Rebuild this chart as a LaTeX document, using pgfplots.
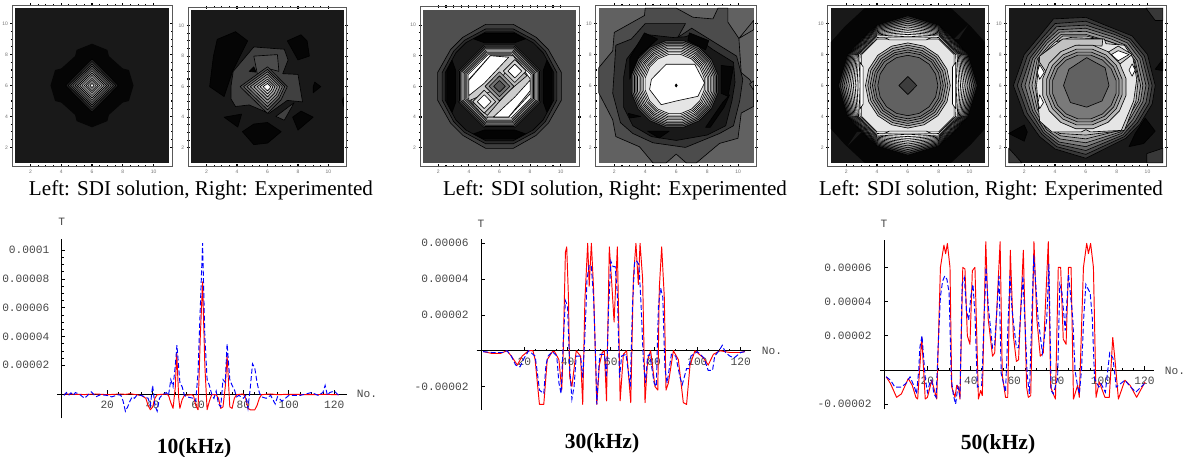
\documentclass[border=0pt]{standalone}
\usepackage{fontspec}
\setmainfont{Liberation Serif}
\setsansfont{Liberation Sans}
\newfontfamily\mono{Liberation Mono}
\usepackage{pgfplots}
\pgfplotsset{compat=1.18}
\newcommand\poly[3][]{\addplot[fill=white!#2!black,draw=black,line width=.62pt,line join=round,#1] coordinates {#3} --cycle;}
\newcommand\npoly{}
\renewcommand\npoly[3][]{\addplot[fill=white!#2!black,draw=none,#1] coordinates {#3} --cycle;}
\newcommand\dia[3][]{\poly[#1]{#3}{(-#2,0)(0,#2)(#2,0)(0,-#2)}}
\newcommand\oct[4][]{\poly[#1]{#4}{(-#2,#3)(#2,#3)(#3,#2)(#3,-#2)(#2,-#3)(-#2,-#3)(-#3,-#2)(-#3,#2)}}
\newcommand\six[6][]{\poly[#1]{#6}{(#2,#5)(#3,#4)(#4,#3)(#5,#2)(#5,-#2)(#4,-#3)(#3,-#4)(#2,-#5)(-#2,-#5)(-#3,-#4)(-#4,-#3)(-#5,-#2)(-#5,#2)(-#4,#3)(-#3,#4)(-#2,#5)}}
\newcommand\rc[6][]{\poly[#1]{#6}{(0,#2)(#3,#4)(#5,#5)(#4,#3)(#2,0)(#4,-#3)(#5,-#5)(#3,-#4)(0,-#2)(-#3,-#4)(-#5,-#5)(-#4,-#3)(-#2,0)(-#4,#3)(-#5,#5)(-#3,#4)}}
\pgfplotsset{
 ctr/.style={scale only axis,anchor=south west,no marks,clip=false,
  xmin=-5.2,xmax=5.2,ymin=-5.2,ymax=5.2,
  xtick={-4,-2,0,2,4},ytick={-4,-2,0,2,4},
  xticklabels={2,4,6,8,10},yticklabels={2,4,6,8,10},
  minor x tick num=1,minor y tick num=1,minor tick num=3,tick pos=both,xticklabel pos=lower,yticklabel pos=left,
  tick align=center,major tick length=3pt,minor tick length=2.4pt,
  tick style={black,line width=1.1pt},axis line style={line width=.8pt,black!65},
  tick label style={font=\fontsize{5}{5}\selectfont\sffamily,text=black!55},
  xticklabel style={yshift=1pt},yticklabel style={xshift=1pt}},
 lin/.style={scale only axis,anchor=south west,no marks,axis lines=middle,
  axis line style={-,black,line width=.7pt},tick align=inside,
  tick style={black,line width=.7pt},major tick length=3.5pt,minor tick length=2pt,
  tick label style={font=\fontsize{11.2}{12}\selectfont\mono,text=black!72},
  xtick={20,40,60,80,100,120},xticklabels={20,40,60,80,100,120},
  minor tick num=3,enlargelimits=false,
  xticklabel style={yshift=-4pt},yticklabel style={xshift=-9pt}},
 rl/.style={red,line width=.95pt,line join=round},
 bl/.style={blue,line width=.95pt,dash pattern=on 5pt off 2.5pt}
}
\begin{document}
\begin{tikzpicture}[x=1pt,y=1pt]
\useasboundingbox (0,0) rectangle (1190pt,457pt);
% ---------- panel 1
\begin{axis}[ctr,at={(12pt,291pt)},width=160pt,height=161pt]
\npoly{10}{(-5,-5)(5,-5)(5,5)(-5,5)}
\npoly{2}{(0,2.7)(1,2.3)(1.1,1.9)(2,1.1)(2.4,1)(2.7,0)(2.4,-1)(2,-1.1)(1.1,-1.9)(1,-2.3)(0,-2.7)(-1,-2.3)(-1.1,-1.9)(-2,-1.1)(-2.4,-1)(-2.7,0)(-2.4,1)(-2,1.1)(-1.1,1.9)(-1,2.3)}
\dia{1.7}{15}\dia{1.55}{25}\dia{1.4}{32}\dia{1.25}{40}\dia{1.1}{48}\dia{.95}{56}\dia{.8}{64}\dia{.65}{72}\dia{.5}{80}\dia{.38}{88}\dia{.26}{95}\dia{.14}{100}
\end{axis}
% ---------- panel 2
\begin{axis}[ctr,at={(188.3pt,291pt)},width=158.4pt,height=158.7pt]
\npoly{10}{(-5,-5)(5,-5)(5,5)(-5,5)}
\poly{2}{(-3.3,3.1)(-2.1,3.6)(-1.3,3)(-2.3,1)(-2.85,-.65)(-3.8,0)(-3.55,2)}
\poly{2}{(1.3,3)(2.2,3.4)(2.6,3)(2.75,2)(2,1.75)}
\poly{2}{(3,0)(3.1,.3)(3.5,0)(3,-.4)}
\poly{2}{(-2.85,-2)(-1.7,-1.8)(-1.95,-2.65)}
\poly{2}{(-1.65,-2.95)(-.9,-2.45)(0,-2.35)(.9,-2.95)(0,-3.7)(-.9,-3.8)}
\poly{2}{(1.65,-2)(2.2,-1.6)(3,-2)(2,-2.85)}
\poly{2}{(4.9,-.9)(5,-.7)(5,-1.3)}
\poly{25}{(-2.25,1)(-.9,2.6)(1.1,2.45)(1.35,1.75)(1,.85)(2,.8)(2.3,-1)(1.3,-.9)(.1,-1.75)(-1.2,-1.2)(-2.1,-1.3)(-2.4,-.8)(-2.4,0)}
\poly{30}{(-.9,2)(.65,2.1)(.75,1)(0,1.2)(-.65,.75)}
\poly{2}{(-1.2,1)(-.9,1.3)(-.75,.95)}
\poly{25}{(.55,-1.95)(1.75,-1.05)(1.1,-2.2)}
\poly{30}{(-1.8,0)(0,1.3)(1.3,0)(.9,-.85)(0,-1.75)}
\poly{40}{(-1.57,0)(0,1.13)(1.13,0)(.78,-.74)(0,-1.52)}
\poly{50}{(-1.35,0)(0,.98)(.98,0)(.68,-.64)(0,-1.31)}
\poly{58}{(-1.13,0)(0,.82)(.82,0)(.57,-.54)(0,-1.1)}
\poly{66}{(-.9,0)(0,.65)(.65,0)(.45,-.43)(0,-.88)}
\poly{74}{(-.68,0)(0,.49)(.49,0)(.34,-.32)(0,-.67)}
\poly{82}{(-.49,0)(0,.35)(.35,0)(.24,-.23)(0,-.47)}
\poly{92}{(-.29,0)(0,.21)(.21,0)(.14,-.14)(0,-.28)}
\npoly{100}{(-.14,0)(0,.1)(.1,0)(.07,-.07)(0,-.14)}
\end{axis}
% ---------- panel 3
\begin{axis}[ctr,at={(420pt,291pt)},width=159pt,height=159.3pt]
\npoly{31}{(-5,-5)(5,-5)(5,5)(-5,5)}
\six{.9}{2.4}{3.2}{4.05}{24}
\six{.9}{2.3}{3}{3.75}{16}
\six{.9}{2.2}{2.85}{3.55}{10}
\poly{1}{(-1.7,3.1)(-1,3.45)(1,3.45)(1.7,3.1)(1,2.85)(-1,2.85)}
\poly{1}{(-1.7,-3.1)(-1,-3.45)(1,-3.45)(1.7,-3.1)(1,-2.85)(-1,-2.85)}
\poly{1}{(-3.1,-1.7)(-3.45,-1)(-3.45,1)(-3.1,1.7)(-2.85,1)(-2.85,-1)}
\poly{1}{(3.1,-1.7)(3.45,-1)(3.45,1)(3.1,1.7)(2.85,1)(2.85,-1)}
\oct{1}{2.7}{30}\oct{.97}{2.62}{45}\oct{.94}{2.54}{58}\oct{.91}{2.46}{70}\oct{.88}{2.38}{80}\oct{.85}{2.3}{88}\oct{.82}{2.22}{94}\oct{.79}{2.14}{98}\oct{.76}{2.06}{100}
\poly{80}{(-2,.45)(-.6,2)(.9,2)(2,.5)(2,-.5)(.6,-2)(-.95,-2)(-2,-.9)}
\poly{100}{(-2,.4)(-2,-.6)(-1,.2)(.6,1.9)(-.6,2)}
\poly{100}{(2,.4)(2,-.3)(.6,-2)(-.4,-2)(1,-.7)}
\poly{72}{(-1.9,-.9)(-.5,-.3)(.9,1.6)(1.8,.7)(.5,-.4)(-.8,-1.9)}
\poly{82}{(1,1.75)(1.75,1)(1,.25)(.25,1)}
\poly{100}{(1,1.45)(1.45,1)(1,.55)(.55,1)}
\poly{82}{(-1,-1.75)(-1.75,-1)(-1,-.25)(-.25,-1)}
\poly{100}{(-1,-1.45)(-1.45,-1)(-1,-.55)(-.55,-1)}
\dia{.95}{60}\dia{.68}{45}\dia{.38}{33}
\end{axis}
% ---------- panel 4
\begin{axis}[ctr,at={(595.7pt,291pt)},width=161pt,height=161pt]
\npoly{38}{(-5,-5)(5,-5)(5,5)(-5,5)}
\poly{30}{(-5,1.15)(-4.1,2.24)(-4,3.43)(-2.05,4.52)(-2,5)(0,5)(1.08,4.41)(2.37,4.3)(2.7,5)(3.34,5)(3.34,4.09)(4.05,3.04)(4.2,.83)(4.74,.39)(5,-.04)(5,-1.35)(4.2,-1.78)(3.99,-3.41)(2.8,-3.74)(1.3,-5)(.65,-5)(0,-4.43)(-.65,-5)(-1.5,-5)(-2.37,-3.96)(-3.9,-3.3)(-4.1,-2.22)(-5,-.48)}
\poly{38}{(4.05,3.04)(5,4.2)(5,3.6)}
\poly{38}{(4.74,.1)(5,.3)(5,-.3)}
\poly{20}{(-4,1)(-3.9,2.6)(-2.9,3)(-2,4)(.6,4)(.1,3.1)(1,3.7)(3.9,1.9)(4.3,.4)(4.1,-1)(3.7,-2.6)(2.8,-3.1)(.6,-4)(-1.5,-3.7)(-2.8,-3.1)(-3.6,-2.4)(-4.1,-.5)}
\poly{10}{(-3.2,1.7)(-2,3.3)(-.2,3.1)(.6,3.15)(1,3.3)(2.4,2.3)(3.7,1.5)(3.8,.2)(3.6,-1)(3.2,-2.6)(2,-3.2)(0,-3.55)(-1.6,-3.3)(-2.8,-2.6)(-3.4,-1.4)(-3.4,.5)}
\poly{2}{(-3,1.8)(-2.05,3.4)(-1.2,3)(-2.4,1.9)(-3,.4)}
\poly{2}{(-3.1,-1.8)(-2.3,-2)(-3,-2.1)}
\poly{2}{(-1.85,-2.95)(-.45,-2.95)(-1.1,-3.4)}
\poly{2}{(1.9,-2.7)(3,-1.1)(3.45,-.6)(3.1,-1.4)(2.2,-2.7)}
\poly{2}{(2.9,1.3)(3.7,1.2)(3.35,-.7)(2.9,-.5)}
\poly{2}{(.85,3.4)(2.1,2.9)(1.9,2.3)(.75,2.9)}
\six[xshift=-1.5pt,yshift=1.5pt]{.57}{1.6}{2.37}{2.8}{35}
\six[xshift=-1.5pt,yshift=1.5pt]{.55}{1.54}{2.28}{2.7}{50}
\six[xshift=-1.5pt,yshift=1.5pt]{.53}{1.48}{2.2}{2.6}{62}
\six[xshift=-1.5pt,yshift=1.5pt]{.51}{1.43}{2.12}{2.5}{72}
\six[xshift=-1.5pt,yshift=1.5pt]{.49}{1.37}{2.03}{2.4}{80}
\six[xshift=-1.5pt,yshift=1.5pt]{.47}{1.32}{1.95}{2.3}{87}
\six[xshift=-1.5pt,yshift=1.5pt]{.45}{1.26}{1.87}{2.2}{92}
\six[xshift=-1.5pt,yshift=1.5pt]{.43}{1.2}{1.78}{2.11}{96}
\six[xshift=-1.5pt,yshift=1.5pt]{.41}{1.15}{1.7}{2.01}{100}
\six[xshift=-1.5pt,yshift=1.5pt]{.39}{1.09}{1.62}{1.91}{90}
\poly{100}{(-1.6,.4)(-.65,1.37)(1.2,1.37)(1.83,.17)(1.4,-.7)(0,-1)(-.97,-1.24)(-1.72,-.26)}
\poly{0}{(-.07,0)(0,.1)(.07,0)(0,-.1)}
\end{axis}
% ---------- panel 5
\begin{axis}[ctr,at={(827.7pt,291pt)},width=160.3pt,height=161pt]
\npoly{10}{(-5,-5)(5,-5)(5,5)(-5,5)}
\npoly{2}{(-5,2.8)(-4.1,3.8)(-2.8,5)(2.8,5)(4.1,3.8)(5,2.8)(5,-2.8)(4.1,-3.8)(2.8,-5)(-2.8,-5)(-4.1,-3.8)(-5,-2.8)}
\npoly{10}{(3,3)(3.9,3.9)(3.3,3)}
\npoly{10}{(-3,-3)(-3.9,-3.9)(-3.3,-3)}
\rc{4.5}{2}{3.9}{3}{18}\rc{4.38}{2}{3.83}{2.96}{32}\rc{4.26}{2}{3.76}{2.92}{44}\rc{4.14}{2}{3.69}{2.88}{55}\rc{4.02}{2}{3.62}{2.84}{65}\rc{3.9}{2}{3.55}{2.8}{74}\rc{3.78}{2}{3.48}{2.76}{82}\rc{3.66}{2}{3.41}{2.72}{88}\rc{3.54}{2}{3.34}{2.68}{93}\rc{3.42}{2}{3.27}{2.64}{97}\rc{3.3}{2}{3.2}{2.6}{100}\rc{3.18}{2}{3.1}{2.55}{100}
\oct{2}{3}{90}
\poly{100}{(-1.5,3.08)(-1.2,2.95)(1.2,2.95)(1.5,3.08)}
\poly{100}{(-1.5,-3.08)(-1.2,-2.95)(1.2,-2.95)(1.5,-3.08)}
\poly{100}{(-3.1,1.5)(-2.9,1.2)(-2.9,-1.2)(-3.1,-1.5)}
\poly{100}{(3.1,1.5)(2.9,1.2)(2.9,-1.2)(3.1,-1.5)}
\rc{2.75}{1.05}{2.54}{1.95}{72}\rc{2.6}{.99}{2.4}{1.85}{63}\rc{2.45}{.93}{2.26}{1.74}{56}\rc{2.3}{.87}{2.12}{1.63}{50}\rc{2.15}{.82}{1.99}{1.53}{45}\rc{1.95}{.74}{1.8}{1.38}{38}
\dia{.58}{24}
\end{axis}
% ---------- panel 6
\begin{axis}[ctr,at={(1005.7pt,291pt)},width=160.3pt,height=161pt]
\npoly{10}{(-5,-5)(5,-5)(5,5)(-5,5)}
\poly{22}{(3.9,5)(5,5)(5,4.2)(4.5,4.2)}
\poly{22}{(3.95,-4.4)(5,-4.05)(5,-5)(3.95,-5)}
\poly{22}{(-5,-4.05)(-4.15,-5)(-5,-5)}
\poly{2}{(-5,-3.1)(-4,-2.55)(-3.8,-3)(-4,-3.6)}
\poly{2}{(2.8,-3.95)(3.2,-3.1)(3.85,-2.1)(4.5,-2.95)(3.75,-3.75)}
\poly{2}{(4.5,1.05)(5,1.7)(5,.95)}
\poly{22}{(-4.7,0)(-4,2)(-3,3.2)(-2.1,4.3)(0,4.4)(2,3.6)(3,3.2)(4,2)(4.5,0)(4.3,-1.2)(3.5,-2.5)(2.6,-3.4)(0,-4.7)(-2,-4.1)(-3,-3.3)(-4,-1.9)}
\poly{30}{(-4.45,0)(-3.8,1.9)(-2.85,3.05)(-2,4)(0,4.15)(1.9,3.45)(2.9,3)(3.8,1.9)(4.3,0)(4.1,-1.15)(3.35,-2.4)(2.5,-3.3)(0,-4.45)(-1.9,-3.95)(-2.85,-3.15)(-3.8,-1.8)}
\poly{40}{(-4.2,0)(-3.6,1.8)(-2.7,2.95)(-1.9,3.8)(0,3.9)(1.85,3.3)(2.8,2.9)(3.65,1.8)(4.1,0)(3.9,-1.1)(3.2,-2.3)(2.4,-3.2)(0,-4.2)(-1.8,-3.8)(-2.75,-3.05)(-3.6,-1.7)}
\poly{50}{(-3.95,0)(-3.45,1.75)(-2.6,2.85)(-1.8,3.6)(0,3.7)(1.75,3.15)(2.7,2.75)(3.5,1.7)(3.9,0)(3.7,-1.05)(3.05,-2.2)(2.3,-3.1)(0,-3.95)(-1.75,-3.65)(-2.65,-2.95)(-3.45,-1.65)}
\poly{60}{(-3.7,0)(-3.3,1.7)(-2.5,2.75)(-1.7,3.45)(0,3.5)(1.65,3)(2.6,2.6)(3.35,1.6)(3.7,0)(3.55,-1)(2.9,-2.1)(2.25,-3)(0,-3.7)(-1.7,-3.45)(-2.55,-2.85)(-3.3,-1.6)}
\poly{68}{(-3.5,0)(-3.15,1.7)(-2.35,2.65)(-1.6,3.3)(0,3.3)(1.5,2.85)(2.5,2.5)(3.2,1.6)(3.55,0)(3.4,-1)(2.75,-2.05)(2.2,-2.9)(0,-3.45)(-1.65,-3.25)(-2.45,-2.75)(-3.15,-1.55)}
\poly{76}{(-3.3,0)(-3.05,1.75)(-2.2,2.6)(-1.5,3.2)(0,3.2)(1.3,2.9)(2.4,2.55)(3.1,1.7)(3.4,.4)(3.25,-1)(2.5,-2.9)(0,-3.2)(-1.7,-3.1)(-2.35,-2.65)(-3.05,-1.6)}
\poly{90}{(-3,1.8)(-2,2.8)(-1,3.1)(1.2,3)(1.3,2.7)(2.5,2.6)(3.05,1.8)(3.3,.4)(3.1,-1)(2.3,-2.9)(.3,-3)(0,-2.85)(-.3,-3)(-2.2,-3)(-3,-2.3)(-3.2,0)}
\poly{76}{(-3,1.9)(-1.5,3)(1.1,3)(1.05,2.55)(-.5,2.6)(-1.8,1.9)(-2.6,.9)(-3,1.5)}
\poly{80}{(2.1,2.55)(3,2)(2.1,1.3)(1.2,2)}
\poly{100}{(2.1,2.25)(2.8,2)(2.1,1.6)(1.65,2)}
\poly{100}{(-3,1.35)(-2.7,.85)(-3,.4)(-3.15,.85)}
\poly{100}{(-3,-.6)(-2.75,-1.1)(-3,-1.5)(-3.1,-1.1)}
\poly{100}{(3,1.4)(3.2,1)(3,.6)(2.8,1)}
\six[xshift=-1.5pt,yshift=-1.5pt]{.55}{1.54}{2.28}{2.7}{72}
\six[xshift=-1.5pt,yshift=-1.5pt]{.5}{1.4}{2.07}{2.45}{62}
\six[xshift=-1.5pt,yshift=-1.5pt]{.46}{1.29}{1.9}{2.25}{55}
\six[xshift=-1.5pt,yshift=-1.5pt]{.42}{1.18}{1.74}{2.06}{48}
\poly{38}{(-1.1,1.05)(.05,1.8)(1.25,1.15)(1.5,0)(1.05,-1)(.05,-1.4)(-1,-1.1)(-1.45,0)}
\end{axis}
% ---------- 10 kHz
\begin{axis}[lin,at={(57.3pt,38.6pt)},width=289.4pt,height=179.6pt,xmin=-2,xmax=125.5,ymin=-17,ymax=108,
 ytick={20,40,60,80,100},yticklabels={0.00002,0.00004,0.00006,0.00008,0.0001}]
\addplot[rl] coordinates {(1,0)(10,-.4)(15,0)(20,-.5)(26,0)(28,-.3)(30,.2)(33,-.6)(35,-1)(37,-3)(38,-8)(39,-11)(40,-9)(41,-3)(42,-.5)(46,0)(47,-1)(48,-6)(49,-10)(50,5)(50.6,29)(51.5,-3)(52,-10)(53,-4)(54,-1)(57,-.5)(58,-1)(59,-8)(60,-11)(61,40)(62,78)(63,20)(64,-11)(65,-5)(66,-.5)(68,-.5)(69,-3)(70,-10)(71,-9)(72,5)(72.8,27)(74,-9)(75,-10)(76,-3)(77,-.5)(80,0)(81,-3)(82,-10)(83,-11)(84,-11)(85,-11)(86,-8)(87,-3)(88,-.5)(92,0)(95,-.5)(100,-.2)(110,-.5)(116,-.3)(122,-.5)};
\addplot[bl] coordinates {(1,-1)(2,1)(3,-1)(4,.8)(5,-1)(6,1)(8,-.5)(10,-3)(12,0)(13,1.5)(15,-2)(17,-.5)(20,-1)(22,-2)(25,-.5)(26,-1)(27,-5)(28,-12)(29,-9)(30,-5)(31,-2)(32,-3)(33,-1)(35,-1)(38,-3)(39,-8)(40,6)(41,-8)(42,-12)(43,-3)(44,-1)(46,1)(47,-1)(48,10)(49,5)(50,20)(50.7,34)(52,8)(53,5)(54,-1)(55,-2)(58,-3)(59,-5)(60,15)(61,60)(62,105)(63,40)(64,10)(65,6)(66,0)(67,-3)(68,2)(69,-7)(70,-9)(71,10)(72,8)(72.8,35)(74,10)(75,6)(76,3)(77,-2)(78,-1)(80,-3)(81,-1)(82,-10)(83,4)(84,21)(85,18)(86,8)(87,1)(88,-2)(90,-3)(92,-1)(94,-7)(95,-2)(97,-5)(100,-1)(105,-1)(110,1)(113,-1)(115,1)(116,6)(117,-1)(118,1)(120,2)(122,-1)};
\end{axis}
% ---------- 30 kHz
\begin{axis}[lin,at={(476.7pt,47.2pt)},width=273.9pt,height=170.8pt,xmin=-2,xmax=124.6,ymin=-33,ymax=62.4,
 ytick={-20,20,40,60},yticklabels={-0.00002,0.00002,0.00004,0.00006}]
\addplot[rl] coordinates {(1,-.5)(5,-1.5)(9,-1.5)(12,0)(14,-3)(16.8,-8)(19,-3)(22,0)(24,0)(25,-5)(27,-30)(29,-30)(30.6,-5)(33,-.5)(34,-.5)(36,-5)(37.3,-22)(38,0)(39,55)(39.6,58)(40.4,30)(41,-15)(42,-20)(44,0)(46,-3)(47,-30)(48,28)(49.3,60)(50,36)(51,60)(52,35)(53.5,-30)(54.7,-8)(56,-1)(57,0)(58,-28)(59.3,58)(60.4,38)(61.5,16)(63,58)(64.3,-28)(65.8,-2)(67.3,0)(69.2,-29)(70.4,40)(71.6,60)(72.7,37)(73.5,60)(74.7,40)(75.8,-29)(77,-5)(78.4,0)(80.4,-20)(81.7,-22)(82.4,35)(83.5,58)(84.7,30)(85.5,-22)(86.6,-18)(88.9,0)(91.2,-5)(93.5,-29)(95,-30)(96.6,-8)(98.9,0)(102.8,-4)(105,-8)(107.4,-2)(110.5,0)(115,-1)(119.7,-1)(122,-.5)};
\addplot[bl] coordinates {(1,-.5)(5,-1)(10,-1)(12,0)(14,-3)(16,-8)(18,-9)(20,-4)(22,0)(25,-3)(26,-12)(27,-22)(28,-23)(29,-24)(30,-8)(31,-3)(33,-.5)(35,-3)(36,-18)(37,-24)(38,5)(39,28)(40,25)(41,-10)(42,-27)(43,-20)(44,-3)(46,-3)(47,-15)(48,8)(49,40)(50,48)(51,47)(52,30)(53,-5)(53.5,-30)(54.5,-8)(55,-2)(57,-2)(58,-15)(59,25)(60,50)(61,47)(62,47)(63,32)(64,-15)(65,-3)(67,-2)(69,-20)(70,25)(71,50)(72,50)(73,48)(74,25)(75,-5)(76,-18)(77,-3)(78,-2)(80,-18)(81,-20)(82,25)(83,35)(84,30)(85,-10)(86,-18)(88,-2)(90,-3)(92,-15)(93,-19)(95,-10)(96,-10)(97,-3)(100,-.5)(103,-4)(105,-11)(107,-11)(108,-3)(110,0)(111.5,3)(113,-1)(115,-3)(117,-4)(120,-1)(122,-.5)};
\end{axis}
% ---------- 50 kHz
\begin{axis}[lin,at={(880.1pt,47.7pt)},width=274.3pt,height=169.3pt,xmin=-1.8,xmax=124.6,ymin=-23,ymax=76,
 ytick={-20,20,40,60},yticklabels={-0.00002,0.00002,0.00004,0.00006}]
\addplot[rl] coordinates {(1,-4)(3,-8)(5.8,-16)(8,-14)(11.2,-5)(13,-9)(14.7,-16)(15.5,-17)(17.4,19)(19,-17)(20,-16)(22,-6)(24.3,-17)(25,15)(26,60)(27.6,73)(28.4,68)(29.2,74)(30.4,60)(31.2,-10)(32.7,-16)(33.5,-9)(34.3,-10)(35,-17)(36.3,60)(37.3,59)(38.4,20)(39.6,15)(40.7,58)(41.9,60)(43.5,-17)(44.5,-12)(45.3,-15)(46.9,75)(48,30)(50,8)(51,10)(53.5,75)(54.5,-3)(56,-16)(57,-16)(58.2,70)(59.6,20)(61,5)(62,6)(64.2,70)(65.7,-10)(66.5,-16)(67.6,-15)(69.1,75)(70.4,30)(72,8)(73.4,10)(75.7,75)(76.8,-10)(78,-14)(79,-17)(80.3,60)(81.4,60)(82.6,18)(83.9,15)(85,60)(86.2,60)(87.3,-17)(89.2,-9)(90,-16)(91.9,60)(93.4,74)(94.2,68)(95.2,74)(96.5,60)(97.7,-16)(99.2,-7)(101.8,-16)(103.8,-16)(105.4,19)(106.5,5)(108,-17)(111,-6)(113.4,-9)(116.4,-16)(120.3,-7)};
\addplot[bl] coordinates {(1,-4)(3,-6)(5,-10)(8,-10)(10,-8)(12,-4)(14,-10)(15,-14)(16,0)(16.5,13)(17.5,20)(19,-5)(20,-13)(21,-8)(22,-6)(23,-14)(24,-16)(25,15)(26,43)(27,52)(28,55)(29,53)(30,45)(31,-5)(32,-15)(33,-20)(34,-10)(35,-15)(36,50)(37,54)(38,35)(39,29)(40,43)(41,50)(42,30)(43,-10)(45,-9)(47,60)(48,38)(50,13)(51,15)(53,55)(54,-2)(56,-13)(58,55)(59,35)(61,13)(62,13)(64,55)(66,-3)(67,-14)(69,67)(71,30)(73,10)(75,30)(76,62)(77,-12)(78,-14)(80,-5)(81,50)(82,45)(83.5,23)(85,56)(87,30)(88,0)(89,-8)(90,-14)(91,0)(92,30)(93,50)(95,45)(96,30)(97,-5)(99,-10)(100,-8)(102,-13)(104,10)(105.5,7)(107,-10)(109,-8)(111,-6)(113,-9)(116,-13)(120,-8)};
\end{axis}
% ---------- text
\foreach \x in {201,615,991}{\node[font=\fontsize{21.1}{22}\selectfont] at (\x pt,267pt) {Left: SDI solution, Right: Experimented};}
\node[font=\fontsize{21.6}{22}\selectfont\bfseries] at (194pt,9pt) {10(kHz)};
\node[font=\fontsize{21.6}{22}\selectfont\bfseries] at (602pt,14pt) {30(kHz)};
\node[font=\fontsize{21.6}{22}\selectfont\bfseries] at (998pt,13pt) {50(kHz)};
\tikzset{ml/.style={font=\fontsize{11.2}{12}\selectfont\mono,text=black!72}}
\node[ml] at (61.7pt,235pt) {T};
\node[ml] at (367pt,63pt) {No.};
\node[ml] at (481pt,233pt) {T};
\node[ml] at (772pt,106pt) {No.};
\node[ml] at (884pt,233pt) {T};
\node[ml] at (1175pt,86pt) {No.};
\end{tikzpicture}
\end{document}
